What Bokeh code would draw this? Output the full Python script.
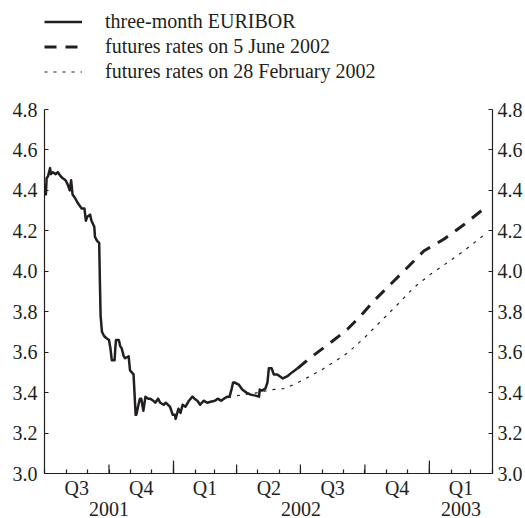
import pandas as pd
from math import pi
from bokeh.plotting import figure
from bokeh.layouts import column
from bokeh.models import (Range1d, LinearAxis, FixedTicker, Legend, LegendItem,
                          PrintfTickFormatter)
from bokeh.embed import file_html
from bokeh.resources import INLINE

START = "2001-07-01"
END = "2003-04-01"

euribor_dates = [
    "2001-07-02", "2001-07-03", "2001-07-04", "2001-07-06", "2001-07-09", "2001-07-10",
    "2001-07-13", "2001-07-17", "2001-07-20", "2001-07-24", "2001-07-27", "2001-07-31",
    "2001-08-03", "2001-08-06", "2001-08-08", "2001-08-10", "2001-08-14", "2001-08-17",
    "2001-08-21", "2001-08-23", "2001-08-27", "2001-08-29", "2001-08-31", "2001-09-04",
    "2001-09-06", "2001-09-10", "2001-09-11", "2001-09-14", "2001-09-17", "2001-09-18",
    "2001-09-19", "2001-09-21", "2001-09-24", "2001-09-27", "2001-10-01", "2001-10-03",
    "2001-10-05", "2001-10-09", "2001-10-10", "2001-10-11", "2001-10-15", "2001-10-17",
    "2001-10-19", "2001-10-22", "2001-10-24", "2001-10-29", "2001-10-31", "2001-11-05",
    "2001-11-08", "2001-11-09", "2001-11-12", "2001-11-14", "2001-11-16", "2001-11-19",
    "2001-11-22", "2001-11-26", "2001-11-29", "2001-12-03", "2001-12-06", "2001-12-10",
    "2001-12-13", "2001-12-18", "2001-12-21", "2001-12-27", "2001-12-31", "2002-01-03",
    "2002-01-04", "2002-01-08", "2002-01-11", "2002-01-14", "2002-01-18", "2002-01-23",
    "2002-01-28", "2002-01-31", "2002-02-04", "2002-02-08", "2002-02-13", "2002-02-18",
    "2002-02-23", "2002-03-01", "2002-03-05", "2002-03-10", "2002-03-14", "2002-03-19",
    "2002-03-22", "2002-03-25", "2002-03-27", "2002-03-29", "2002-04-04", "2002-04-09",
    "2002-04-15", "2002-04-21", "2002-04-28", "2002-05-03", "2002-05-04", "2002-05-07",
    "2002-05-12", "2002-05-15", "2002-05-17", "2002-05-21", "2002-05-24", "2002-05-29",
    "2002-06-02", "2002-06-06", "2002-06-12", "2002-06-19", "2002-06-27",
]
euribor_values = [
    4.43, 4.38, 4.46, 4.47, 4.51, 4.48,
    4.49, 4.48, 4.49, 4.47, 4.46, 4.45,
    4.43, 4.40, 4.45, 4.38, 4.36, 4.34,
    4.32, 4.31, 4.31, 4.25, 4.27, 4.28,
    4.25, 4.22, 4.17, 4.15, 4.14, 3.95,
    3.78, 3.70, 3.68, 3.67, 3.66, 3.62,
    3.56, 3.56, 3.62, 3.66, 3.66, 3.63,
    3.62, 3.58, 3.57, 3.58, 3.51, 3.49,
    3.29, 3.29, 3.34, 3.37, 3.37, 3.31,
    3.38, 3.37, 3.37, 3.36, 3.35, 3.37,
    3.35, 3.34, 3.35, 3.33, 3.29, 3.29,
    3.27, 3.32, 3.30, 3.34, 3.33, 3.36,
    3.38, 3.37, 3.36, 3.34, 3.36, 3.35,
    3.355, 3.36, 3.37, 3.36, 3.37, 3.38,
    3.38, 3.42, 3.45, 3.45, 3.44, 3.415,
    3.40, 3.39, 3.385, 3.38, 3.415, 3.41,
    3.42, 3.45, 3.52, 3.52, 3.49, 3.49,
    3.48, 3.47, 3.48, 3.50, 3.52,
]

futures_jun_dates = [
    "2002-06-27", "2002-07-15", "2002-08-13", "2002-09-06", "2002-09-25", "2002-10-14",
    "2002-11-07", "2002-12-01", "2002-12-24", "2003-01-22", "2003-02-19", "2003-03-20",
]
futures_jun_values = [
    3.52, 3.572, 3.647, 3.713, 3.78, 3.854,
    3.937, 4.02, 4.10, 4.16, 4.23, 4.31,
]

futures_feb_dates = [
    "2002-03-20", "2002-04-02", "2002-05-01", "2002-05-22", "2002-06-07", "2002-06-22",
    "2002-07-06", "2002-07-30", "2002-08-15", "2002-09-06", "2002-09-30", "2002-10-24",
    "2002-11-17", "2002-12-10", "2003-01-03", "2003-01-27", "2003-02-19", "2003-03-20",
]
futures_feb_values = [
    3.375, 3.385, 3.40, 3.415, 3.42, 3.44,
    3.465, 3.51, 3.545, 3.595, 3.67, 3.754,
    3.837, 3.92, 3.986, 4.044, 4.10, 4.18,
]

quarter_bounds = ["2001-07-01", "2001-10-01", "2002-01-01", "2002-04-01",
                  "2002-07-01", "2002-10-01", "2003-01-01", "2003-04-01"]
quarter_labels = ["Q3", "Q4", "Q1", "Q2", "Q3", "Q4", "Q1"]
year_bounds = ["2001-07-01", "2002-01-01", "2003-01-01", "2003-04-01"]
year_labels = ["2001", "2002", "2003"]
y_ticks = [3.0, 3.2, 3.4, 3.6, 3.8, 4.0, 4.2, 4.4, 4.6, 4.8]

legend_labels = ["three-month EURIBOR", "futures rates on 5 June 2002",
                 "futures rates on 28 February 2002"]

FONT = "Liberation Serif"
FS = "20px"
INK = "#231f20"

WIDTH = 525
LEG_H = 92
MAIN_H = 518 - LEG_H
TOP = 109 - LEG_H
BOTTOM = 45
LEFT = 44
RIGHT = 33

STYLES = [
    dict(line_color=INK, line_width=2.5),
    dict(line_color=INK, line_width=3, line_dash="12 9"),
    dict(line_color=INK, line_width=1.2, line_dash="3 6"),
]


def days(ds):
    s = pd.Timestamp(START)
    return [int((pd.Timestamp(d) - s).days) for d in ds]


qb = days(quarter_bounds)
q_mids = [int(round((a + b) / 2)) for a, b in zip(qb[:-1], qb[1:])]
yb = days(year_bounds)
y_mids = [int(round((a + b) / 2)) for a, b in zip(yb[:-1], yb[1:])]
months = days([d.strftime("%Y-%m-%d") for d in pd.date_range(START, END, freq="MS")])

series = [
    (days(euribor_dates), euribor_values),
    (days(futures_jun_dates), futures_jun_values),
    (days(futures_feb_dates), futures_feb_values),
]

# ---------------- legend strip (its lines lie outside its own ranges) ----------------
lg = figure(width=WIDTH, height=LEG_H, output_backend="svg", toolbar_location=None,
            x_range=Range1d(-20, -10), y_range=Range1d(0, 1),
            x_axis_type=None, y_axis_type=None,
            min_border_left=0, min_border_right=0, min_border_top=0, min_border_bottom=0)
lg.outline_line_color = None
lg.xgrid.visible = False
lg.ygrid.visible = False
lg.border_fill_color = "white"
lg.background_fill_color = "white"
keys = [lg.line(x, y, **st) for (x, y), st in zip(series, STYLES)]
legend = Legend(items=[LegendItem(label=lab, renderers=[k])
                       for lab, k in zip(legend_labels, keys)],
                location=(0, LEG_H - 84), orientation="vertical",
                margin=0, padding=0, spacing=0, glyph_width=38, glyph_height=25,
                label_height=25, label_standoff=23, label_text_font=FONT,
                label_text_font_size=FS, label_text_color=INK,
                border_line_color=None, background_fill_alpha=0)
lg.add_layout(legend, "center")

# ---------------- main chart ----------------
p = figure(width=WIDTH, height=MAIN_H, output_backend="svg", toolbar_location=None,
           x_range=Range1d(0, days([END])[0]), y_range=Range1d(3.0, 4.8),
           x_axis_type=None, y_axis_type=None,
           min_border_left=LEFT, min_border_top=TOP, min_border_right=RIGHT,
           min_border_bottom=BOTTOM)
p.outline_line_color = None
p.xgrid.visible = False
p.ygrid.visible = False
p.background_fill_color = "white"
p.border_fill_color = "white"


def style_axis(ax):
    ax.axis_line_color = INK
    ax.axis_line_width = 1.2
    ax.major_tick_line_color = INK
    ax.major_tick_line_width = 1.2
    ax.minor_tick_line_color = INK
    ax.minor_tick_line_width = 1.2
    ax.major_label_text_font = FONT
    ax.major_label_text_font_size = FS
    ax.major_label_text_color = INK


left = LinearAxis(ticker=FixedTicker(ticks=y_ticks), major_tick_in=4, major_tick_out=0,
                  major_label_standoff=7, formatter=PrintfTickFormatter(format="%.1f"))
style_axis(left)
p.add_layout(left, "left")

right = LinearAxis(ticker=FixedTicker(ticks=y_ticks), major_tick_in=4, major_tick_out=0,
                   major_label_standoff=5, formatter=PrintfTickFormatter(format="%.1f"))
style_axis(right)
p.add_layout(right, "right")

qaxis = LinearAxis(ticker=FixedTicker(ticks=q_mids, minor_ticks=months),
                   major_tick_in=0, major_tick_out=0, minor_tick_in=4, minor_tick_out=0,
                   major_label_standoff=3,
                   major_label_overrides={m: l for m, l in zip(q_mids, quarter_labels)})
style_axis(qaxis)
qaxis.major_tick_line_color = None
p.add_layout(qaxis, "below")

yaxis2 = LinearAxis(ticker=FixedTicker(ticks=y_mids), major_tick_in=0, major_tick_out=0,
                    major_label_standoff=0,
                    major_label_overrides={m: l for m, l in zip(y_mids, year_labels)})
style_axis(yaxis2)
yaxis2.axis_line_color = None
yaxis2.major_tick_line_color = None
p.add_layout(yaxis2, "below")

# quarter and year boundary ticks (longer than the monthly ones)
p.ray(x=qb[1:-1], y=3.0, length=9, length_units="screen", angle=pi / 2,
      line_color=INK, line_width=1.2)
p.ray(x=yb[1:-1], y=3.0, length=13, length_units="screen", angle=pi / 2,
      line_color=INK, line_width=1.2)

for (x, y), st in reversed(list(zip(series, STYLES))):
    p.line(x, y, line_join="round", **st)

layout = column(lg, p, spacing=0)
open("out.html", "w").write(file_html(layout, INLINE))
